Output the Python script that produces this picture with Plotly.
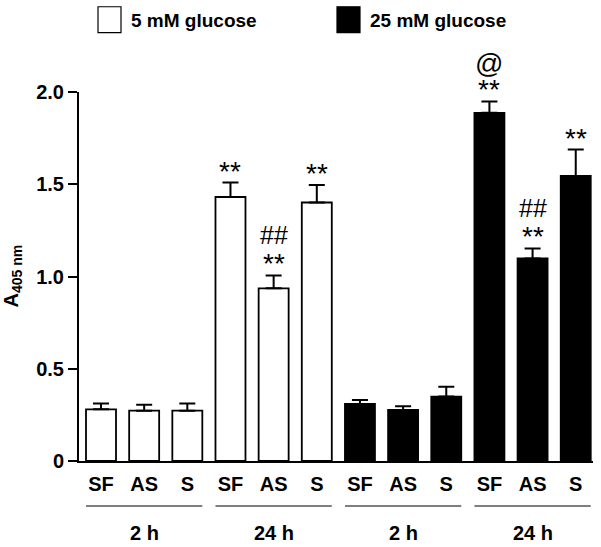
import plotly.graph_objects as go

# ---- data ----
conditions = ["SF", "AS", "S", "SF", "AS", "S"]
times = ["2 h", "24 h"]
low_glucose = [0.28, 0.273, 0.273, 1.431, 0.936, 1.401]
low_err = [0.031, 0.032, 0.039, 0.078, 0.070, 0.095]
high_glucose = [0.309, 0.277, 0.349, 1.887, 1.098, 1.545]
high_err = [0.022, 0.020, 0.054, 0.062, 0.054, 0.143]
series_names = ["5 mM glucose", "25 mM glucose"]
# significance marks (bar index in full order)
sig_star = [3, 4, 5, 9, 10, 11]
sig_hash = [4, 10]
sig_at = [9]

FONT = "Liberation Sans, Arial, Helvetica, sans-serif"

values = low_glucose + high_glucose
errors = low_err + high_err
xpos = list(range(len(values)))
BW = 0.695

fig = go.Figure()
fig.add_trace(go.Bar(
    x=xpos[:6], y=low_glucose, name=series_names[0], width=BW,
    marker=dict(color="white", line=dict(color="black", width=1.8)),
    error_y=dict(type="data", array=low_err, arrayminus=[0]*6, symmetric=False,
                 color="black", thickness=2, width=8),
    showlegend=False))
fig.add_trace(go.Bar(
    x=xpos[6:], y=high_glucose, name=series_names[1], width=BW,
    marker=dict(color="black", line=dict(color="black", width=1.8)),
    error_y=dict(type="data", array=high_err, arrayminus=[0]*6, symmetric=False,
                 color="black", thickness=2, width=8),
    showlegend=False))

annotations = []
for i in sig_star:
    annotations.append(dict(x=i, y=values[i] + errors[i], xref="x", yref="y",
                            text="**", showarrow=False, yanchor="bottom", yshift=-6,
                            font=dict(family=FONT, size=28, color="black")))
for i in sig_hash:
    annotations.append(dict(x=i, y=values[i] + errors[i], xref="x", yref="y",
                            text="##", showarrow=False, yanchor="bottom", yshift=24,
                            font=dict(family=FONT, size=25, color="black")))
for i in sig_at:
    annotations.append(dict(x=i, y=values[i] + errors[i], xref="x", yref="y",
                            text="@", showarrow=False, yanchor="bottom", yshift=20,
                            font=dict(family=FONT, size=28, color="black")))

shapes = []
for g in range(4):
    a, b = 3 * g, 3 * g + 2
    shapes.append(dict(type="line", xref="x", yref="paper", x0=a - BW/2, x1=b + BW/2,
                       y0=-0.122, y1=-0.122, line=dict(color="black", width=1.2)))
    annotations.append(dict(x=a + 1, y=-0.196, xref="x", yref="paper", text=times[g % 2],
                            showarrow=False, yanchor="middle",
                            font=dict(family=FONT, size=20, color="black", weight="bold")))

def px2paper_x(px):
    return (px - 79) / 514
def px2paper_y(py):
    return (461.5 - py) / 370

legend_items = [(98, "white", series_names[0]), (337, "black", series_names[1])]
for left, col, name in legend_items:
    shapes.append(dict(type="rect", xref="paper", yref="paper",
                       x0=px2paper_x(left), x1=px2paper_x(left + 23),
                       y0=px2paper_y(32), y1=px2paper_y(6),
                       fillcolor=col, line=dict(color="black", width=1.2)))
    annotations.append(dict(x=px2paper_x(left + 31), y=px2paper_y(20), xref="paper", yref="paper",
                            text=name, showarrow=False, xanchor="left", yanchor="middle",
                            font=dict(family=FONT, size=19, color="black", weight="bold")))

annotations.append(dict(x=px2paper_x(12), y=0.5, xref="paper", yref="paper",
                        text="A<sub>405 nm</sub>", textangle=-90, showarrow=False,
                        xanchor="center", yanchor="middle",
                        font=dict(family=FONT, size=20, color="black", weight="bold")))

fig.update_layout(
    width=601, height=547,
    margin=dict(l=79, r=8, t=91.5, b=85.5, autoexpand=False),
    plot_bgcolor="white", paper_bgcolor="white",
    barmode="overlay",
    annotations=annotations, shapes=shapes,
    xaxis=dict(range=[-0.51, 11.40], tickmode="array", tickvals=xpos,
               ticktext=conditions + conditions, showgrid=False, zeroline=False,
               showline=True, linecolor="black", linewidth=2, automargin=False,
               ticks="outside", ticklen=4, tickcolor="rgba(0,0,0,0)",
               tickfont=dict(family=FONT, size=20, color="black", weight="bold")),
    yaxis=dict(range=[0, 2.0], tickmode="array", tickvals=[0, 0.5, 1.0, 1.5, 2.0],
               ticktext=["0", "0.5", "1.0", "1.5", "2.0"], showgrid=False, zeroline=False,
               showline=True, linecolor="black", linewidth=2, automargin=False,
               ticks="outside", ticklen=9, tickwidth=2, tickcolor="black",
               tickfont=dict(family=FONT, size=20, color="black", weight="bold")),
)

fig.write_html("out.html", config={"displayModeBar": False},
               post_script="document.body.style.margin='0px';document.body.style.padding='0px';")
